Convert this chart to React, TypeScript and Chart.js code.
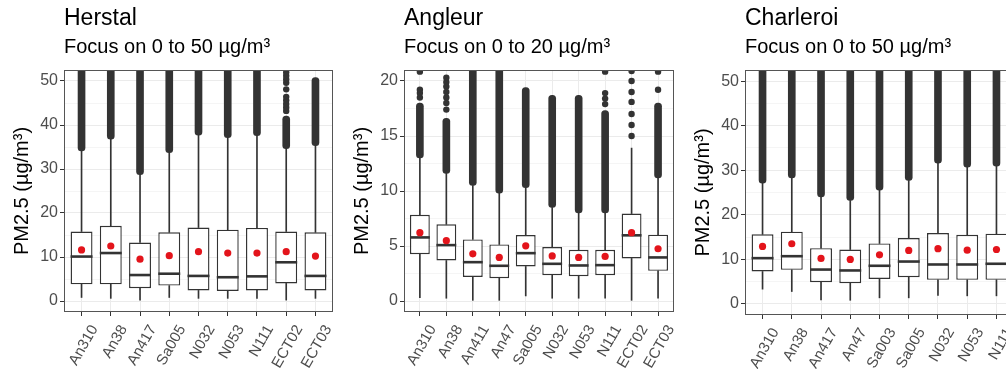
import React, { useEffect, useRef } from "react";
import { Chart, registerables } from "chart.js";

Chart.register(...registerables);

const FONT = '"Liberation Sans", Arial, Helvetica, sans-serif';
const Y_TITLE = "PM2.5 (µg/m³)";
const BOX_WIDTH = 0.75;

// ---------------- Herstal ----------------
const HERSTAL_SITES = ["An310", "An38", "An417", "Sa005", "N032", "N053", "N111", "ECT02", "ECT03"];
const HERSTAL_WHISKER_LOW = [0.8, 0.6, 0.2, 0.8, 0.6, 0.6, 0.6, 0.2, 0.6];
const HERSTAL_Q1 = [3.8, 3.8, 2.9, 3.5, 2.4, 2.3, 2.4, 4.0, 2.4];
const HERSTAL_MEDIAN = [10.1, 10.9, 5.9, 6.2, 5.7, 5.4, 5.6, 8.8, 5.7];
const HERSTAL_Q3 = [15.8, 17.1, 13.3, 15.6, 16.7, 16.2, 16.6, 15.8, 15.6];
const HERSTAL_MEAN = [11.6, 12.5, 9.5, 10.3, 11.2, 10.9, 10.9, 11.2, 10.2];
const HERSTAL_WHISKER_HIGH = [34.1, 36.8, 28.7, 33.7, 37.7, 37.1, 37.6, 34.6, 35.3];
const HERSTAL_OUTLIER_MAX = [80, 80, 80, 80, 80, 80, 80, 42.0, 50.8];
const HERSTAL_SPARSE_SITE = ["ECT02", "ECT02", "ECT02", "ECT02", "ECT02", "ECT02", "ECT02", "ECT02", "ECT02", "ECT02", "ECT02"];
const HERSTAL_SPARSE_VALUE = [43.2, 44.0, 44.8, 45.6, 46.4, 48.1, 49.6, 50.4, 51.2, 52.0, 52.8];
const HERSTAL_Y_MAJOR = [0, 10, 20, 30, 40, 50];
const HERSTAL_Y_MINOR = [5, 15, 25, 35, 45];

// ---------------- Angleur ----------------
const ANGLEUR_SITES = ["An310", "An38", "An411", "An47", "Sa005", "N032", "N053", "N111", "ECT02", "ECT03"];
const ANGLEUR_WHISKER_LOW = [0.3, 0.25, 0.06, 0.06, 0.46, 0.25, 0.25, 0.25, 0.06, 0.25];
const ANGLEUR_Q1 = [4.26, 3.68, 2.19, 2.07, 3.14, 2.35, 2.25, 2.35, 3.87, 2.74];
const ANGLEUR_MEDIAN = [5.78, 5.08, 3.53, 3.2, 4.35, 3.38, 3.23, 3.26, 5.97, 3.96];
const ANGLEUR_Q3 = [7.83, 6.97, 5.6, 5.14, 6.0, 4.9, 4.66, 4.66, 7.95, 6.03];
const ANGLEUR_MEAN = [6.21, 5.48, 4.29, 3.96, 5.02, 4.1, 3.96, 4.05, 6.21, 4.75];
const ANGLEUR_WHISKER_HIGH = [13.0, 11.6, 10.5, 9.8, 10.3, 8.5, 8.0, 8.0, 13.9, 11.2];
const ANGLEUR_OUTLIER_MAX = [18.0, 16.6, 30, 30, 19.4, 18.7, 18.7, 17.3, null, 18.0];
const ANGLEUR_SPARSE_SITE = [
  "An310", "An310", "An310", "An310",
  "An38", "An38", "An38", "An38", "An38", "An38", "An38",
  "N111", "N111", "N111", "N111",
  "ECT02", "ECT02", "ECT02", "ECT02", "ECT02", "ECT02", "ECT02",
  "ECT03", "ECT03",
];
const ANGLEUR_SPARSE_VALUE = [
  18.5, 18.9, 19.2, 20.85,
  17.4, 18.0, 18.5, 19.0, 19.5, 19.9, 20.3,
  17.9, 18.4, 18.9, 20.85,
  15.0, 16.0, 17.0, 18.1, 19.0, 20.0, 20.9,
  19.2, 20.85,
];
const ANGLEUR_Y_MAJOR = [0, 5, 10, 15, 20];
const ANGLEUR_Y_MINOR = [2.5, 7.5, 12.5, 17.5];

// ---------------- Charleroi ----------------
const CHARLEROI_SITES = ["An310", "An38", "An417", "An47", "Sa003", "Sa005", "N032", "N053", "N111"];
const CHARLEROI_WHISKER_LOW = [3.3, 2.77, 0.9, 0.8, 1.35, 1.35, 1.87, 1.8, 1.8];
const CHARLEROI_Q1 = [7.26, 7.64, 4.87, 4.65, 5.6, 6.0, 5.4, 5.4, 5.4];
const CHARLEROI_MEDIAN = [10.26, 10.7, 7.7, 7.5, 8.55, 9.5, 8.84, 8.84, 9.0];
const CHARLEROI_Q3 = [15.6, 16.2, 12.5, 12.2, 13.56, 14.77, 15.9, 15.5, 15.75];
const CHARLEROI_MEAN = [12.9, 13.5, 10.2, 9.97, 11.0, 12.0, 12.4, 12.06, 12.2];
const CHARLEROI_WHISKER_HIGH = [27.1, 28.3, 24.0, 23.2, 25.5, 27.7, 31.6, 30.7, 30.9];
const CHARLEROI_OUTLIER_MAX = [80, 80, 80, 80, 80, 80, 80, 80, 80];
const CHARLEROI_SPARSE_SITE: string[] = [];
const CHARLEROI_SPARSE_VALUE: number[] = [];
const CHARLEROI_Y_MAJOR = [0, 10, 20, 30, 40, 50];
const CHARLEROI_Y_MINOR = [5, 15, 25, 35, 45];

type Panel = {
  title: string;
  subtitle: string;
  sites: string[];
  low: number[];
  q1: number[];
  median: number[];
  q3: number[];
  mean: number[];
  high: number[];
  outMax: (number | null)[];
  sparseSite: string[];
  sparseValue: number[];
  yMin: number;
  yMax: number;
  yMajor: number[];
  yMinor: number[];
  left: number;
  width: number;
  padRight: number;
  xAxisHeight: number;
};

const PANELS: Panel[] = [
  {
    title: "Herstal",
    subtitle: "Focus on 0 to 50 µg/m³",
    sites: HERSTAL_SITES,
    low: HERSTAL_WHISKER_LOW,
    q1: HERSTAL_Q1,
    median: HERSTAL_MEDIAN,
    q3: HERSTAL_Q3,
    mean: HERSTAL_MEAN,
    high: HERSTAL_WHISKER_HIGH,
    outMax: HERSTAL_OUTLIER_MAX,
    sparseSite: HERSTAL_SPARSE_SITE,
    sparseValue: HERSTAL_SPARSE_VALUE,
    yMin: -2.5,
    yMax: 52.5,
    yMajor: HERSTAL_Y_MAJOR,
    yMinor: HERSTAL_Y_MINOR,
    left: 0,
    width: 340,
    padRight: 7,
    xAxisHeight: 57,
  },
  {
    title: "Angleur",
    subtitle: "Focus on 0 to 20 µg/m³",
    sites: ANGLEUR_SITES,
    low: ANGLEUR_WHISKER_LOW,
    q1: ANGLEUR_Q1,
    median: ANGLEUR_MEDIAN,
    q3: ANGLEUR_Q3,
    mean: ANGLEUR_MEAN,
    high: ANGLEUR_WHISKER_HIGH,
    outMax: ANGLEUR_OUTLIER_MAX,
    sparseSite: ANGLEUR_SPARSE_SITE,
    sparseValue: ANGLEUR_SPARSE_VALUE,
    yMin: -1,
    yMax: 21,
    yMajor: ANGLEUR_Y_MAJOR,
    yMinor: ANGLEUR_Y_MINOR,
    left: 340,
    width: 340,
    padRight: 6,
    xAxisHeight: 57,
  },
  {
    title: "Charleroi",
    subtitle: "Focus on 0 to 50 µg/m³",
    sites: CHARLEROI_SITES,
    low: CHARLEROI_WHISKER_LOW,
    q1: CHARLEROI_Q1,
    median: CHARLEROI_MEDIAN,
    q3: CHARLEROI_Q3,
    mean: CHARLEROI_MEAN,
    high: CHARLEROI_WHISKER_HIGH,
    outMax: CHARLEROI_OUTLIER_MAX,
    sparseSite: CHARLEROI_SPARSE_SITE,
    sparseValue: CHARLEROI_SPARSE_VALUE,
    yMin: -2.5,
    yMax: 52.5,
    yMajor: CHARLEROI_Y_MAJOR,
    yMinor: CHARLEROI_Y_MINOR,
    left: 681,
    width: 341,
    padRight: 8,
    xAxisHeight: 54,
  },
];

const INK = "#333333";
const MEAN_RED = "#E3141B";

const framePlugin = {
  id: "panelFrame",
  afterDatasetsDraw(chart: any) {
    const { ctx, chartArea: a } = chart;
    ctx.save();
    ctx.strokeStyle = "#555555";
    ctx.lineWidth = 1;
    ctx.strokeRect(Math.round(a.left) + 0.5, Math.round(a.top) + 0.5, Math.round(a.right - a.left) - 1, Math.round(a.bottom - a.top) - 1);
    ctx.restore();
  },
};

function buildConfig(p: Panel): any {
  const idx = p.sites.map((_, i) => i);
  const halfBox = (chart: any) => {
    const s = chart.scales.x;
    return Math.abs(s.getPixelForValue(BOX_WIDTH / 2) - s.getPixelForValue(0));
  };
  const whiskers: any[] = [];
  idx.forEach((i) => {
    whiskers.push({ x: i, y: [p.low[i], p.q1[i]] });
    whiskers.push({ x: i, y: [p.q3[i], p.high[i]] });
  });
  const bands = idx
    .filter((i) => p.outMax[i] !== null)
    .map((i) => ({ x: i, y: [p.high[i], p.outMax[i] as number] }));
  const sparse = p.sparseSite.map((s, k) => ({ x: p.sites.indexOf(s), y: p.sparseValue[k] }));
  const isMajor = (v: number) => p.yMajor.includes(v);

  return {
    type: "bar",
    data: {
      datasets: [
        {
          type: "scatter",
          label: "Mean",
          data: idx.map((i) => ({ x: i, y: p.mean[i] })),
          pointRadius: 3.6,
          pointBackgroundColor: MEAN_RED,
          pointBorderWidth: 0,
          clip: 0,
          order: 0,
        },
        {
          type: "scatter",
          label: "Median",
          data: idx.map((i) => ({ x: i, y: p.median[i] })),
          pointStyle: "line",
          pointRadius: (c: any) => halfBox(c.chart),
          pointBorderWidth: 2.6,
          pointBorderColor: INK,
          clip: 0,
          order: 1,
        },
        {
          type: "scatter",
          label: "Outliers",
          data: sparse,
          pointRadius: 3.2,
          pointBackgroundColor: INK,
          pointBorderWidth: 0,
          clip: 0,
          order: 2,
        },
        {
          type: "bar",
          label: "Box",
          data: idx.map((i) => ({ x: i, y: [p.q1[i], p.q3[i]] })),
          backgroundColor: "#FFFFFF",
          borderColor: INK,
          borderWidth: 1.4,
          borderSkipped: false,
          grouped: false,
          categoryPercentage: 1,
          barPercentage: BOX_WIDTH,
          clip: 0,
          order: 3,
        },
        {
          type: "bar",
          label: "Whiskers",
          data: whiskers,
          backgroundColor: INK,
          borderWidth: 0,
          barThickness: 1,
          grouped: false,
          clip: 0,
          order: 4,
        },
        {
          type: "bar",
          label: "Outlier cloud",
          data: bands,
          backgroundColor: INK,
          borderWidth: 0,
          barThickness: 7,
          borderRadius: 3.5,
          borderSkipped: false,
          grouped: false,
          clip: 0,
          order: 5,
        },
      ],
    },
    options: {
      animation: false,
      responsive: false,
      maintainAspectRatio: false,
      devicePixelRatio: 1,
      events: [],
      layout: { padding: { left: 0, right: p.padRight, top: 0, bottom: 0 } },
      plugins: {
        legend: { display: false },
        tooltip: { enabled: false },
        title: {
          display: true,
          text: p.title,
          align: "start",
          fullSize: false,
          color: "#000000",
          font: { size: 23, family: FONT, weight: "normal" },
          padding: { top: 5, bottom: 2 },
        },
        subtitle: {
          display: true,
          text: p.subtitle,
          align: "start",
          fullSize: false,
          color: "#000000",
          font: { size: 20, family: FONT, weight: "normal" },
          padding: { top: 1, bottom: 10.4 },
        },
      },
      scales: {
        x: {
          type: "linear",
          min: -0.6,
          max: p.sites.length - 1 + 0.6,
          offset: false,
          afterBuildTicks: (s: any) => {
            s.ticks = idx.map((v) => ({ value: v }));
          },
          afterFit: (s: any) => {
            s.height = p.xAxisHeight;
          },
          ticks: {
            callback: (v: any) => p.sites[v] ?? "",
            autoSkip: false,
            minRotation: 60,
            maxRotation: 60,
            color: "#4D4D4D",
            font: { size: 15, family: FONT },
            padding: 6,
            labelOffset: 13,
          },
          grid: { color: "#EBEBEB", tickColor: INK, tickLength: 4, offset: false, lineWidth: 1 },
          border: { display: false },
        },
        y: {
          type: "linear",
          min: p.yMin,
          max: p.yMax,
          afterBuildTicks: (s: any) => {
            s.ticks = [...p.yMinor, ...p.yMajor].sort((a, b) => a - b).map((v) => ({ value: v }));
          },
          afterFit: (s: any) => {
            s.width = 64;
          },
          ticks: {
            callback: (v: any) => (isMajor(v) ? String(v) : ""),
            autoSkip: false,
            color: "#4D4D4D",
            font: { size: 16, family: FONT },
            padding: 2,
          },
          grid: {
            color: (c: any) => (c.tick && isMajor(c.tick.value) ? "#EBEBEB" : "#F5F5F5"),
            tickColor: (c: any) => (c.tick && isMajor(c.tick.value) ? INK : "rgba(0,0,0,0)"),
            tickLength: 4,
            lineWidth: 1,
          },
          border: { display: false },
          title: {
            display: true,
            text: Y_TITLE,
            color: "#000000",
            font: { size: 20, family: FONT },
            padding: { top: 10, bottom: 0 },
          },
        },
      },
    },
    plugins: [framePlugin],
  };
}

function BoxPanel({ p }: { p: Panel }) {
  const ref = useRef<HTMLCanvasElement>(null);
  useEffect(() => {
    if (!ref.current) return;
    const chart = new Chart(ref.current, buildConfig(p));
    return () => chart.destroy();
  }, [p]);
  return (
    <canvas
      ref={ref}
      width={p.width}
      height={369}
      style={{ position: "absolute", left: p.left, top: 0, width: p.width, height: 369 }}
    />
  );
}

export default function App() {
  return (
    <div
      style={{
        position: "fixed",
        left: 0,
        top: 0,
        width: 1006,
        height: 369,
        overflow: "hidden",
        background: "#FFFFFF",
      }}
    >
      {PANELS.map((p) => (
        <BoxPanel key={p.title} p={p} />
      ))}
    </div>
  );
}
